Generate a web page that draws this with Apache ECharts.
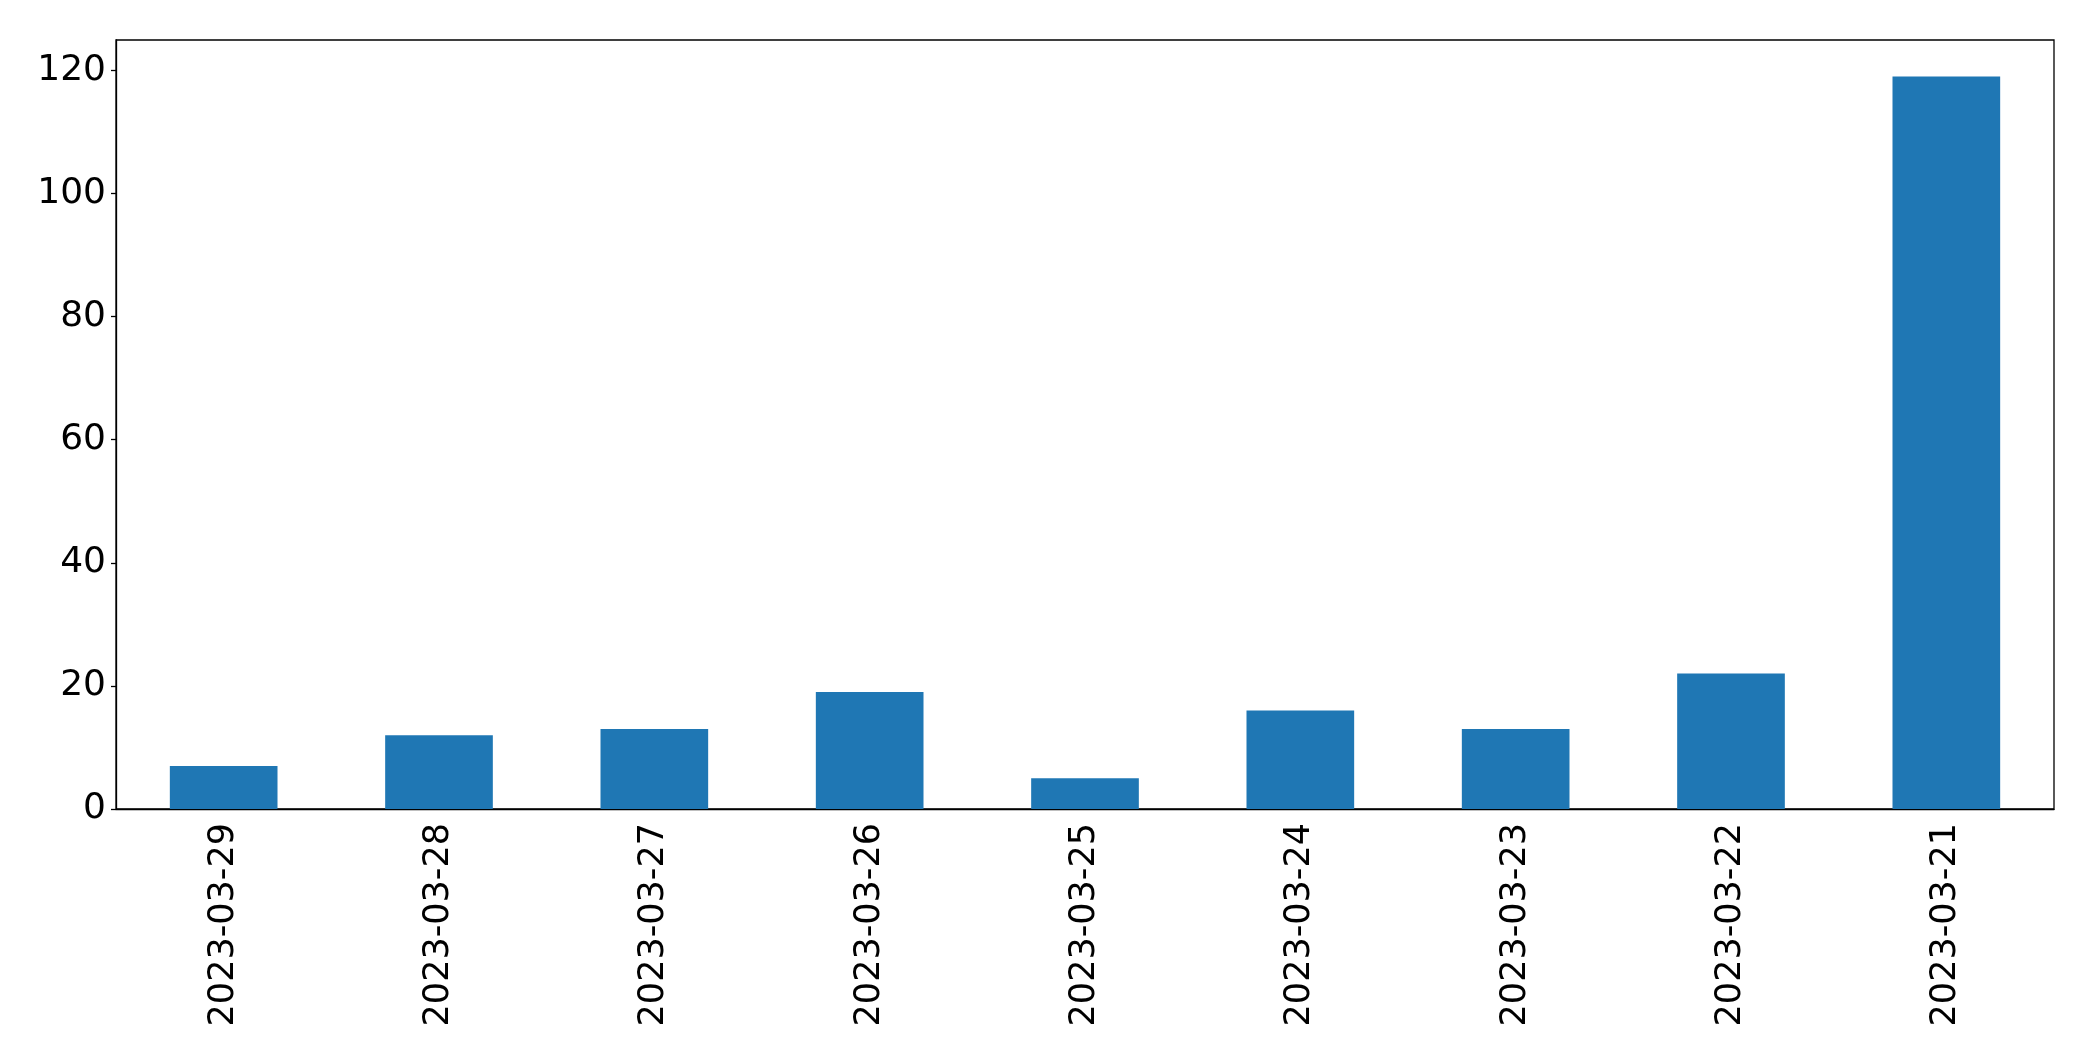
<!DOCTYPE html>
<html>

<head>
  <meta charset="utf-8">
  <title>ECharts</title>
  <script src="https://cdn.jsdelivr.net/npm/echarts@6/dist/echarts.min.js"></script>
</head>
<style>
  * {
    padding: 0;
    margin: 0;
  }

  #main {
    width: 2093px;
    height: 1061px;
    overflow: hidden;
    position: absolute;
    background: #fff;
  }
</style>

<body>
  <div id="main"></div>
  <script type="text/javascript">
    // 数据
    var dates = ['2023-03-29', '2023-03-28', '2023-03-27', '2023-03-26', '2023-03-25',
      '2023-03-24', '2023-03-23', '2023-03-22', '2023-03-21'];
    var counts = [7, 12, 13, 19, 5, 16, 13, 22, 119];
    var yTicks = [0, 20, 40, 60, 80, 100, 120];

    var font = 'DejaVu Sans';
    var myChart = echarts.init(document.getElementById('main'));

    var option = {
      animation: false,
      grid: {
        left: 116,
        top: 40,
        width: 1938,
        height: 769,
        show: true,
        borderColor: '#000',
        borderWidth: 1.3,
        containLabel: false
      },
      xAxis: {
        type: 'category',
        data: dates,
        boundaryGap: true,
        axisLine: { lineStyle: { color: '#000', width: 1.3 } },
        axisTick: { alignWithLabel: true, length: 5, lineStyle: { color: '#000', width: 1.3 } },
        axisLabel: {
          rotate: 90,
          margin: 14,
          color: '#000',
          fontFamily: font,
          fontSize: 35
        },
        splitLine: { show: false }
      },
      yAxis: {
        type: 'value',
        min: 0,
        max: 124.95,
        interval: 20,
        axisLine: { show: true, lineStyle: { color: '#000', width: 1.3 } },
        axisTick: { show: true, length: 5, customValues: yTicks, lineStyle: { color: '#000', width: 1.3 } },
        axisLabel: {
          customValues: yTicks,
          margin: 10,
          color: '#000',
          fontFamily: font,
          fontSize: 36
        },
        splitLine: { show: false }
      },
      series: [{
        type: 'bar',
        data: counts,
        barWidth: '50%',
        itemStyle: { color: '#1f77b4' }
      }]
    };

    myChart.setOption(option);
  </script>
</body>

</html>
